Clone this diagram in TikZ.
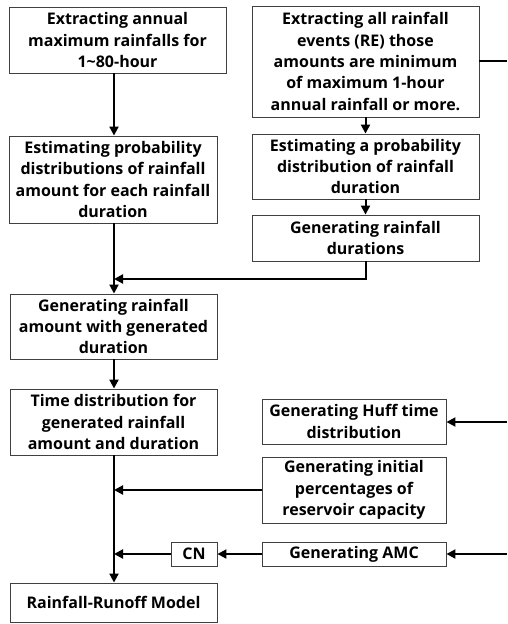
\documentclass[tikz,border=0pt]{standalone}
\usepackage{fontspec}
\setmainfont{Open Sans}
\usetikzlibrary{arrows.meta}
\tikzset{
  box/.style={draw=black!75, line width=0.9pt, align=center, inner sep=0pt, font=\fontsize{16}{21.3}\selectfont\bfseries},
  flow/.style={line width=2pt, -{Triangle[length=9pt,width=9pt]}},
  plain/.style={line width=2pt},
}
\begin{document}
\begin{tikzpicture}[x=1pt,y=-1pt]
\useasboundingbox (0,0) rectangle (507,624);
\coordinate (sp) at (114,0);
\node[box, minimum width=217pt, minimum height=66pt] (A) at (117.5,40) {Extracting annual\\maximum rainfalls for\\1\textasciitilde80-hour};
\node[box, minimum width=208pt, minimum height=87pt] (B) at (113,179.5) {Estimating probability\\distributions of rainfall\\amount for each rainfall\\duration};
\node[box, minimum width=227pt, minimum height=111pt] (C) at (365.5,61.5) {Extracting all rainfall\\events (RE) those\\amounts are minimum\\of maximum 1-hour\\annual rainfall or more.};
\node[box, minimum width=227pt, minimum height=65pt] (D) at (365.5,166.5) {Estimating a probability\\distribution of rainfall\\duration};
\node[box, minimum width=227pt, minimum height=46pt] (E) at (365.5,238) {Generating rainfall\\durations};
\node[box, minimum width=207pt, minimum height=65pt] (F) at (113.5,326.5) {Generating rainfall\\amount with generated\\duration};
\node[box, minimum width=207pt, minimum height=66pt] (G) at (113.5,422) {Time distribution for\\generated rainfall\\amount and duration};
\node[box, minimum width=184pt, minimum height=45pt] (H) at (354,421.5) {Generating Huff time\\distribution};
\node[box, minimum width=184pt, minimum height=66pt] (I) at (354,490) {Generating initial\\percentages of\\reservoir capacity};
\node[box, minimum width=184pt, minimum height=24pt] (J) at (354,554) {Generating AMC};
\node[box, minimum width=46pt, minimum height=24pt] (CN) at (194,554) {CN};
\node[box, minimum width=207pt, minimum height=39pt] (K) at (113.5,602.5) {Rainfall-Runoff Model};
\coordinate (cR) at (507,61);
\coordinate (hR) at (507,422);
\coordinate (jR) at (507,554);
\coordinate (eBend) at (366,279);
\coordinate (merge1) at (114,279);
\draw[flow] (A.south -| sp) -- (B.north -| sp);
\draw[plain] (C.east |- cR) -- (cR);
\draw[flow] (C.south) -- (D.north);
\draw[flow] (D.south) -- (E.north);
\draw[flow] (E.south -| eBend) -- (eBend) -- (merge1);
\draw[flow] (B.south -| sp) -- (F.north -| sp);
\draw[flow] (F.south -| sp) -- (G.north -| sp);
\draw[flow] (hR) -- (H.east |- hR);
\draw[flow] (G.south -| sp) -- (K.north -| sp);
\draw[flow] (I.west) -- (I.west -| sp);
\draw[flow] (jR) -- (J.east);
\draw[flow] (J.west) -- (CN.east);
\draw[flow] (CN.west) -- (CN.west -| sp);
\end{tikzpicture}
\end{document}
